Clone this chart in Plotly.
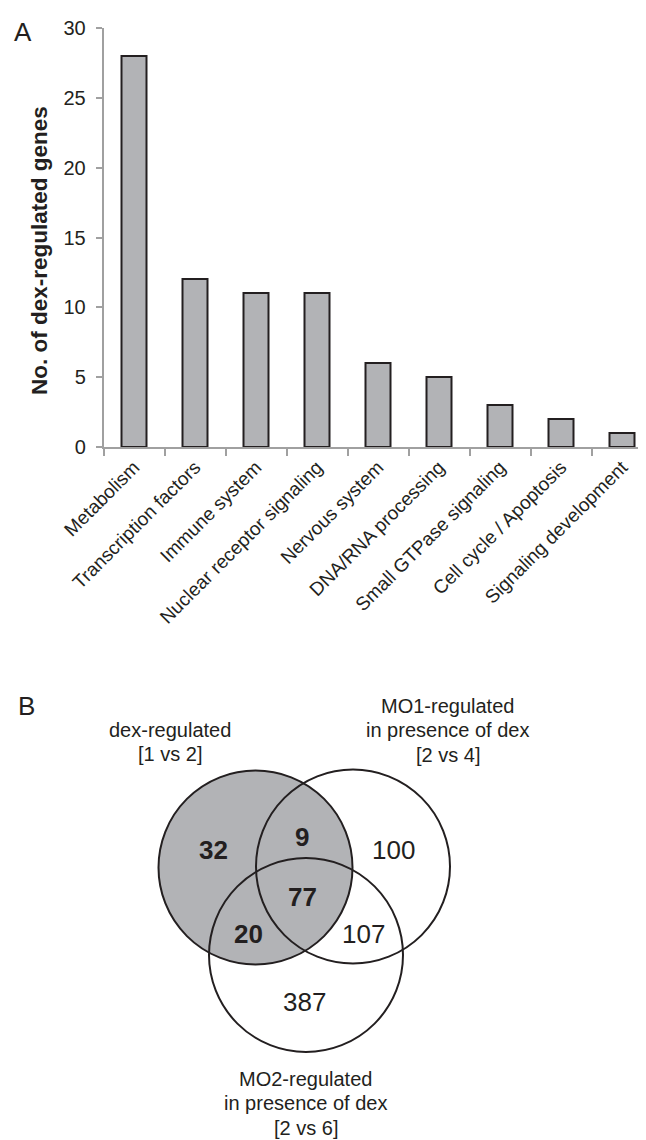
import plotly.graph_objects as go

# ---------------- data ----------------
categories = ["Metabolism", "Transcription factors", "Immune system",
              "Nuclear receptor signaling", "Nervous system", "DNA/RNA processing",
              "Small GTPase signaling", "Cell cycle / Apoptosis", "Signaling development"]
gene_counts = [28, 12, 11, 11, 6, 5, 3, 2, 1]
y_ticks = [0, 5, 10, 15, 20, 25, 30]
y_title = "No. of dex-regulated genes"

venn_set_labels = [["dex-regulated", "[1 vs 2]"],
                   ["MO1-regulated", "in presence of dex", "[2 vs 4]"],
                   ["MO2-regulated", "in presence of dex", "[2 vs 6]"]]
venn_region_counts = [32, 9, 100, 77, 20, 107, 387]
venn_region_bold = [True, True, False, True, True, False, False]

# ---------------- layout geometry ----------------
# target positions are given in page pixels; the browser puts the figure at an
# 8px body margin, so the figure is made 8px smaller and positions shifted.
PAGE_W, PAGE_H = 646, 1140
OFF = 8
W, H = PAGE_W - OFF, PAGE_H - OFF


def px(x):
    return (x - OFF) / W


def py(y):
    return 1 - (y - OFF) / H


circle_centers = [(255.5, 867.5), (353.0, 866.5), (306.0, 955.0)]
circle_radius = 97.0
region_pos = [(213, 850), (302, 837), (393.5, 850), (302.5, 897), (248, 934), (363, 934), (304, 1002)]
set_label_first_line = [(169.5, 730), (447.7, 706), (305.5, 1079)]
line_step = 24.3

TXT = "#231f20"
FONT = "Arial, Liberation Sans, Helvetica, sans-serif"
AX = "#a0a0a0"

fig = go.Figure()

fig.add_trace(go.Bar(
    x=categories, y=gene_counts, width=0.41,
    marker=dict(color="#b2b3b6", line=dict(color=TXT, width=2)),
    xaxis="x", yaxis="y", showlegend=False, hoverinfo="x+y"))

# bar panel: y 30 at page 28px, 0 at page 447px; x axis starts at page 103.5px, 61px per category
x_left_page = 103.5
cat_w = 61.0
x_max = -0.5 + (PAGE_W - x_left_page) / cat_w

fig.update_layout(
    template="none",
    width=W, height=H,
    margin=dict(l=0, r=0, t=0, b=0, pad=0, autoexpand=False),
    paper_bgcolor="white", plot_bgcolor="rgba(0,0,0,0)",
    font=dict(family=FONT, color=TXT),
    bargap=0, showlegend=False,
    xaxis=dict(domain=[px(x_left_page), 1.0], range=[-0.5, x_max], type="category", automargin=False,
               showline=True, linecolor=AX, linewidth=1.5, mirror=False,
               ticks="outside", tickson="boundaries", ticklen=7, tickcolor=AX, tickwidth=1.5,
               tickangle=-45, tickfont=dict(size=19, color=TXT), showgrid=False, zeroline=False,
               anchor="y"),
    yaxis=dict(domain=[py(447), py(28)], range=[0, 30], tickvals=y_ticks, automargin=False,
               showline=True, linecolor=AX, linewidth=1.5, mirror=False,
               ticks="outside", ticklen=6, tickcolor=AX, tickwidth=1.5,
               tickfont=dict(size=20, color=TXT), ticklabelstandoff=6,
               showgrid=False, zeroline=False, anchor="x"),
    xaxis2=dict(domain=[0, 1], range=[OFF, PAGE_W], visible=False, anchor="y2", fixedrange=True,
                automargin=False),
    yaxis2=dict(domain=[0, py(513)], range=[PAGE_H, 513], visible=False, anchor="x2", fixedrange=True,
                automargin=False),
)

# y-axis title
fig.add_annotation(x=px(40), y=py(251), xref="paper", yref="paper",
                   text=f"<b>{y_title}</b>", textangle=-90, showarrow=False,
                   font=dict(size=22.5, color=TXT), xanchor="center", yanchor="middle")

# Venn circles
fills = ["#b2b3b6", "rgba(0,0,0,0)", "rgba(0,0,0,0)"]
for (cx, cy), fc in zip(circle_centers, fills):
    fig.add_shape(type="circle", xref="x2", yref="y2",
                  x0=cx - circle_radius, x1=cx + circle_radius,
                  y0=cy - circle_radius, y1=cy + circle_radius,
                  fillcolor=fc, line=dict(color=TXT, width=2), layer="above")

for cnt, bold, (x, y) in zip(venn_region_counts, venn_region_bold, region_pos):
    txt = f"<b>{cnt}</b>" if bold else str(cnt)
    fig.add_annotation(x=x, y=y, xref="x2", yref="y2", text=txt, showarrow=False,
                       font=dict(size=26, color=TXT), xanchor="center", yanchor="middle",
                       borderpad=0, borderwidth=0)

for lines, (x, y) in zip(venn_set_labels, set_label_first_line):
    for i, ln in enumerate(lines):
        fig.add_annotation(x=x, y=y + i * line_step, xref="x2", yref="y2", text=ln,
                           showarrow=False, font=dict(size=20, color=TXT),
                           xanchor="center", yanchor="middle", borderpad=0, borderwidth=0)

# panel letters
fig.add_annotation(x=px(23), y=py(32), xref="paper", yref="paper", text="A", showarrow=False,
                   font=dict(size=26, color=TXT), xanchor="center", yanchor="middle")
fig.add_annotation(x=px(26), y=py(706), xref="paper", yref="paper", text="B", showarrow=False,
                   font=dict(size=26, color=TXT), xanchor="center", yanchor="middle")

fig.write_html("out.html")
